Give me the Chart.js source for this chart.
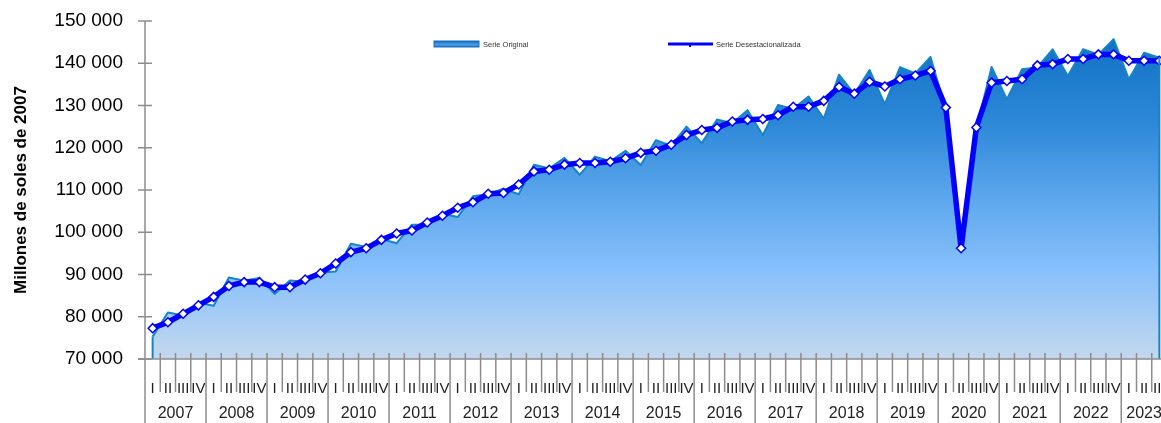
<!DOCTYPE html>
<html>
<head>
<meta charset="utf-8">
<script src="https://cdn.jsdelivr.net/npm/chart.js@4.4.1/dist/chart.umd.min.js"></script>
<style>
  html, body { margin: 0; padding: 0; background: #fff; overflow: hidden; }
</style>
</head>
<body>
<canvas id="pbi" width="1173" height="423"></canvas>
<script>
const years = ['2007','2008','2009','2010','2011','2012','2013','2014','2015','2016','2017','2018','2019','2020','2021','2022','2023'];
const quarters = ['I','II','III','IV'];

// Serie original (millones de soles de 2007)
const original = [
  75300, 81000, 80300, 83300,
  82600, 89300, 88500, 89200,
  85400, 88600, 88300, 90500,
  90700, 97300, 96500, 98400,
  97400, 101800, 101800, 104400,
  103600, 108500, 109000, 110300,
  109000, 116000, 115100, 117600,
  113600, 117900, 116800, 119300,
  115900, 121800, 120500, 125000,
  121100, 126700, 125800, 128900,
  123000, 130100, 129200, 132100,
  126900, 137300, 132700, 138400,
  130300, 139100, 137600, 141500,
  128800, 96700, 124500, 139100,
  131500, 138600, 139000, 143300,
  137000, 143300, 142000, 145700,
  136200, 142500, 141300
];

// Serie desestacionalizada
const desest = [
  77300, 78700, 80700, 82700,
  84700, 87300, 88200, 88200,
  87000, 87000, 88800, 90300,
  92600, 95300, 96200, 98200,
  99700, 100400, 102300, 103900,
  105800, 107100, 109100, 109300,
  111300, 114400, 114800, 116000,
  116400, 116400, 116700, 117500,
  118800, 119300, 120700, 123000,
  124200, 124700, 126200, 126600,
  126800, 127700, 129700, 129700,
  131100, 134400, 132800, 135600,
  134500, 136200, 137100, 138200,
  129500, 96200, 124800, 135400,
  135800, 136200, 139500, 139800,
  141000, 141000, 142100, 142100,
  140600, 140600, 140600
];

const yMin = 70000, yMax = 150000, yStep = 10000;

const labels = [];
years.forEach(y => quarters.forEach(q => { if (labels.length < original.length) labels.push(y + ' ' + q); }));

const FONT = "'Liberation Sans', Arial, sans-serif";
const AXIS = '#8c8c8c';

function fmt(v) { return String(v).replace(/\B(?=(\d{3})+(?!\d))/g, ' '); }

function areaFill(ctx) {
  const a = ctx.chart.chartArea;
  if (!a) return '#5aa0e0';
  const g = ctx.chart.ctx.createLinearGradient(0, a.top, 0, a.bottom);
  g.addColorStop(0, '#0a6cc0');
  g.addColorStop(0.3, '#2d88d8');
  g.addColorStop(0.55, '#62aaef');
  g.addColorStop(0.74, '#88c0fb');
  g.addColorStop(1, '#c4d8ee');
  return g;
}

const decor = {
  id: 'decor',
  afterDatasetsDraw(chart) {
    const c = chart.ctx, x = chart.scales.x, y = chart.scales.y, a = chart.chartArea;
    const n = labels.length;
    const w = (x.getPixelForValue(1) - x.getPixelForValue(0));
    c.save();

    // side edges of the area
    const pts = chart.getDatasetMeta(1).data;
    c.strokeStyle = '#1784c6'; c.lineWidth = 2;
    [pts[0], pts[pts.length - 1]].forEach(p => {
      c.beginPath(); c.moveTo(p.x, a.bottom); c.lineTo(p.x, p.y); c.stroke();
    });

    // axis lines
    c.strokeStyle = AXIS; c.lineWidth = 1.5;
    c.beginPath(); c.moveTo(a.left, a.top); c.lineTo(a.left, chart.height); c.stroke();
    c.beginPath(); c.moveTo(a.left - 7, a.bottom); c.lineTo(a.right, a.bottom); c.stroke();

    // y tick marks
    y.ticks.forEach((t, i) => {
      const py = y.getPixelForTick(i);
      c.beginPath(); c.moveTo(a.left - 7, py); c.lineTo(a.left + 7, py); c.stroke();
    });

    // x tick marks (quarters short, years long)
    for (let i = 1; i <= n; i++) {
      const px = x.getPixelForValue(i - 1) + w / 2;
      const long = (i % 4 === 0) || i === n;
      c.beginPath(); c.moveTo(px, a.bottom - 6); c.lineTo(px, long ? chart.height : a.bottom + 33); c.stroke();
    }

    // year labels
    c.fillStyle = '#222'; c.font = '16px ' + FONT; c.textAlign = 'center'; c.textBaseline = 'middle';
    years.forEach((yr, k) => {
      const first = k * 4, last = Math.min(k * 4 + 3, n - 1);
      const l = x.getPixelForValue(first) - w / 2, r = x.getPixelForValue(last) + w / 2;
      c.fillText(yr, (l + r) / 2, 414);
    });

    // legend
    const lg = c.createLinearGradient(0, 41, 0, 48);
    lg.addColorStop(0, '#0a6cc0'); lg.addColorStop(0.5, '#4a9ae6'); lg.addColorStop(1, '#0a6cc0');
    c.fillStyle = lg; c.fillRect(434, 41, 45, 6);
    c.strokeStyle = '#1a70b8'; c.lineWidth = 1; c.strokeRect(434, 41, 45, 6);
    c.strokeStyle = '#0000ff'; c.lineWidth = 3;
    c.beginPath(); c.moveTo(668, 44); c.lineTo(713, 44); c.stroke();
    c.fillStyle = '#0000ff'; c.fillRect(689, 44, 2, 3);
    c.fillStyle = '#333'; c.font = '7.5px ' + FONT; c.textAlign = 'left'; c.textBaseline = 'middle';
    c.fillText('Serie Original', 483, 44.5);
    c.fillText('Serie Desestacionalizada', 716, 44.5);
    c.restore();
  }
};

new Chart(document.getElementById('pbi'), {
  type: 'line',
  data: {
    labels: labels,
    datasets: [
      {
        label: 'Serie Desestacionalizada',
        data: desest,
        order: 0,
        borderColor: '#0000ff',
        borderWidth: 5.5,
        borderJoinStyle: 'round',
        pointStyle: 'rectRot',
        pointRadius: 4.5,
        pointBackgroundColor: '#ffffff',
        pointBorderColor: '#0000ff',
        pointBorderWidth: 1.5,
        tension: 0,
        fill: false
      },
      {
        label: 'Serie Original',
        data: original,
        order: 1,
        borderColor: '#1784c6',
        borderWidth: 2,
        borderJoinStyle: 'round',
        backgroundColor: areaFill,
        pointRadius: 0,
        tension: 0,
        fill: 'start'
      }
    ]
  },
  options: {
    responsive: false,
    animation: false,
    events: [],
    layout: { padding: { top: 21, right: 0, left: 0, bottom: 0 } },
    plugins: { legend: { display: false }, tooltip: { enabled: false } },
    scales: {
      x: {
        offset: true,
        grid: { display: false },
        border: { display: false },
        ticks: {
          autoSkip: false, maxRotation: 0, minRotation: 0, padding: 13,
          color: '#222', font: { family: FONT, size: 15 },
          callback: (v, i) => quarters[i % 4]
        },
        afterFit: s => { s.height = 64; s.paddingLeft = 0; s.paddingRight = 0; }
      },
      y: {
        min: yMin, max: yMax,
        grid: { display: false, drawTicks: false },
        border: { display: false },
        ticks: { stepSize: yStep, padding: 22, color: '#000', font: { family: FONT, size: 19 }, callback: v => fmt(v) },
        title: {
          display: true, text: 'Millones de soles de 2007', color: '#000',
          font: { family: FONT, size: 17, weight: 'bold' }, padding: { top: 11, bottom: 0 }
        },
        afterFit: s => { s.width = 145; s.paddingTop = 0; s.paddingBottom = 0; }
      }
    }
  },
  plugins: [decor]
});
</script>
</body>
</html>
